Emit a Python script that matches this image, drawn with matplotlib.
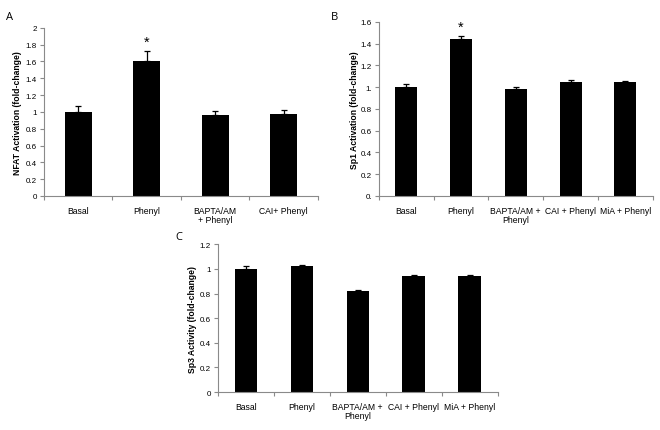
import matplotlib
matplotlib.use("Agg")
import matplotlib.pyplot as plt
import numpy as np

plt.rcParams['font.family'] = ['Liberation Sans', 'DejaVu Sans']

# panel A
cats_a = ["Basal", "Phenyl", "BAPTA/AM\n+ Phenyl", "CAI+ Phenyl"]
vals_a = [1.0, 1.6, 0.96, 0.98]
err_a = [0.07, 0.13, 0.05, 0.04]
ticks_a = [0, 0.2, 0.4, 0.6, 0.8, 1, 1.2, 1.4, 1.6, 1.8, 2]
ticklab_a = ["0", "0.2", "0.4", "0.6", "0.8", "1", "1.2", "1.4", "1.6", "1.8", "2"]

# panel B
cats_b = ["Basal", "Phenyl", "BAPTA/AM +\nPhenyl", "CAI + Phenyl", "MiA + Phenyl"]
vals_b = [1.0, 1.44, 0.98, 1.045, 1.045]
err_b = [0.03, 0.03, 0.02, 0.02, 0.01]
ticks_b = [0, 0.2, 0.4, 0.6, 0.8, 1, 1.2, 1.4, 1.6]
ticklab_b = ["0.", "0.2", "0.4", "0.6", "0.8", "1.", "1.2", "1.4", "1.6"]

# panel C
cats_c = ["Basal", "Phenyl", "BAPTA/AM +\nPhenyl", "CAI + Phenyl", "MiA + Phenyl"]
vals_c = [1.0, 1.02, 0.82, 0.94, 0.94]
err_c = [0.02, 0.01, 0.01, 0.01, 0.01]
ticks_c = [0, 0.2, 0.4, 0.6, 0.8, 1, 1.2]
ticklab_c = ["0", "0.2", "0.4", "0.6", "0.8", "1", "1.2"]

star_a = [1]
star_b = [1]

GRAY = "#8a8a8a"


def panel(ax, cats, vals, errs, ticks, ticklab, ylabel, stars=(), lpad=2):
    n = len(cats)
    x = np.arange(n)
    ax.bar(x, vals, width=0.4, color="black", zorder=2)
    ax.errorbar(x, vals, yerr=[np.zeros(n), errs], fmt="none", ecolor="black",
                elinewidth=0.9, capsize=2.2, capthick=0.9, zorder=3)
    for i in stars:
        ax.text(x[i], vals[i] + errs[i] + (ticks[-1] * 0.012), "*", ha="center",
                va="bottom", fontsize=10.5)
    ax.set_xlim(-0.5, n - 0.5)
    ax.set_ylim(0, ticks[-1])
    ax.set_yticks(ticks)
    ax.set_yticklabels(ticklab, fontsize=5.8)
    ax.set_xticks(x)
    ax.set_xticklabels(cats, fontsize=6.2, linespacing=1.1)
    ax.set_xticks(np.arange(n + 1) - 0.5, minor=True)
    ax.tick_params(axis="x", which="major", length=0, pad=7)
    ax.tick_params(axis="x", which="minor", length=3, color=GRAY, width=0.8)
    ax.tick_params(axis="y", length=3, color=GRAY, width=0.8, pad=2)
    for s in ["top", "right"]:
        ax.spines[s].set_visible(False)
    for s in ["left", "bottom"]:
        ax.spines[s].set_color(GRAY)
        ax.spines[s].set_linewidth(0.8)
    ax.set_ylabel(ylabel, fontsize=6.2, fontweight="bold", labelpad=lpad)


fig = plt.figure(figsize=(6.6, 4.31), dpi=100)

ax_a = fig.add_axes([0.0667, 0.543, 0.415, 0.390])
panel(ax_a, cats_a, vals_a, err_a, ticks_a, ticklab_a,
      "NFAT Activation (fold-change)", star_a, lpad=3)

ax_b = fig.add_axes([0.574, 0.543, 0.415, 0.404])
panel(ax_b, cats_b, vals_b, err_b, ticks_b, ticklab_b,
      "Sp1 Activation (fold-change)", star_b, lpad=1)

ax_c = fig.add_axes([0.330, 0.088, 0.424, 0.343])
panel(ax_c, cats_c, vals_c, err_c, ticks_c, ticklab_c,
      "Sp3 Activity (fold-change)", lpad=2)

fig.text(6 / 660, 1 - 17 / 431, "A", fontsize=8, family="Open Sans", va="center")
fig.text(331 / 660, 1 - 17 / 431, "B", fontsize=8, family="Open Sans", va="center")
fig.text(175 / 660, 1 - 238 / 431, "C", fontsize=8, family="Open Sans", va="center")

fig.savefig("out.png", dpi=100)
